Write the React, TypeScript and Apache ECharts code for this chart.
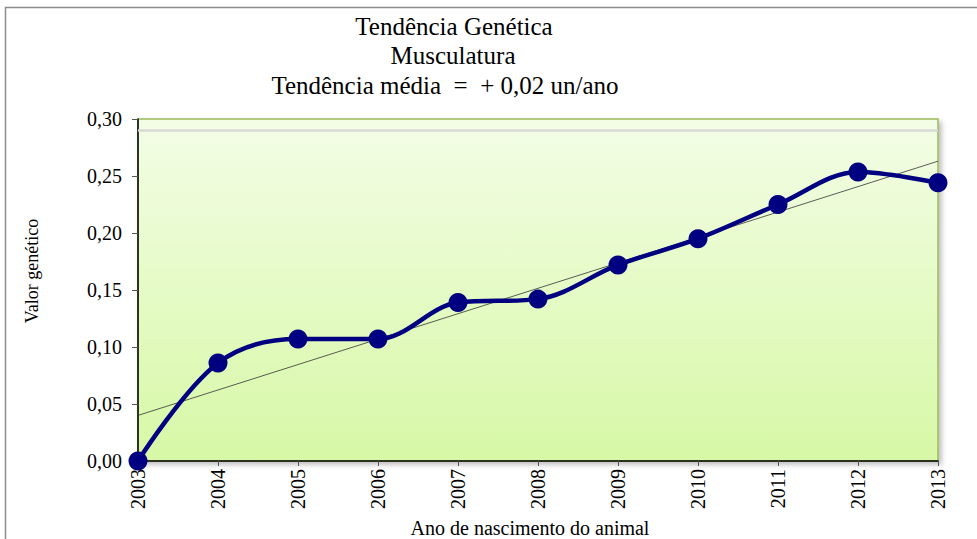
import React, { useEffect, useRef } from "react";
import * as echarts from "echarts";

const titleLines = ["Tendência Genética", "Musculatura", "Tendência média  =  + 0,02 un/ano"];
const years = ["2003", "2004", "2005", "2006", "2007", "2008", "2009", "2010", "2011", "2012", "2013"];
const geneticValues = [0.0, 0.086, 0.107, 0.107, 0.139, 0.142, 0.172, 0.195, 0.225, 0.2535, 0.244];
const trendYears = ["2003", "2013"];
const trendValues = [0.040, 0.263];
const yAxisName = "Valor genético";
const xAxisName = "Ano de nascimento do animal";

const FONT = "Times New Roman, Liberation Serif, serif";

const titleCenters = [454, 453, 445];
const titleTops = [14, 43, 73];

export default function App() {
  const ref = useRef<HTMLDivElement>(null);
  useEffect(() => {
    if (!ref.current) return;
    const chart = echarts.init(ref.current, null, { renderer: "svg" });
    chart.setOption({
      animation: false,
      backgroundColor: "#ffffff",
      textStyle: { fontFamily: FONT },
      title: titleLines.map((t, i) => ({
        text: t,
        left: titleCenters[i],
        textAlign: "center",
        top: titleTops[i],
        padding: 0,
        textStyle: { fontFamily: FONT, fontSize: 25, fontWeight: "normal", color: "#000" },
      })),
      graphic: [
        {
          type: "rect",
          shape: { x: 5.5, y: 7.5, width: 1000, height: 600 },
          style: { fill: "none", stroke: "#8c8c8c", lineWidth: 1.5 },
          silent: true,
          z: -1,
        },
      ],
      grid: {
        left: 138,
        right: 39,
        top: 119,
        bottom: 78,
        outerBoundsMode: "none",
        containLabel: false,
        show: true,
        borderColor: "#9bbb59",
        borderWidth: 1.5,
        backgroundColor: new echarts.graphic.LinearGradient(0, 0, 0, 1, [
          { offset: 0, color: "#f3fde6" },
          { offset: 1, color: "#d7f8a6" },
        ]),
        shadowColor: "rgba(0,0,0,0.25)",
        shadowBlur: 5,
        shadowOffsetX: 3,
        shadowOffsetY: 3,
      },
      xAxis: {
        type: "category",
        data: years,
        boundaryGap: false,
        name: xAxisName,
        nameLocation: "middle",
        nameGap: 57,
        nameTextStyle: { fontFamily: FONT, fontSize: 20, color: "#000", padding: [0, 16, 0, 0] },
        axisLine: { show: true, lineStyle: { color: "#000", width: 1.5 } },
        axisTick: { show: true, length: 5, lineStyle: { color: "#555" } },
        axisLabel: { rotate: 90, margin: 8, fontFamily: FONT, fontSize: 20, color: "#000" },
        splitLine: { show: false },
      },
      yAxis: {
        type: "value",
        min: 0,
        max: 0.3,
        interval: 0.05,
        name: yAxisName,
        nameLocation: "middle",
        nameGap: 97,
        nameRotate: 90,
        nameTextStyle: { fontFamily: FONT, fontSize: 18, color: "#000", padding: [0, 0, 0, 38] },
        axisLine: { show: true, lineStyle: { color: "#000", width: 1.5 } },
        axisTick: { show: true, length: 6, lineStyle: { color: "#555" } },
        axisLabel: {
          margin: 16,
          fontFamily: FONT,
          fontSize: 20,
          color: "#000",
          formatter: (v: number) => v.toFixed(2).replace(".", ","),
        },
        splitLine: { show: false },
      },
      series: [
        {
          type: "line",
          data: trendYears.map((y, i) => [y, trendValues[i]]),
          symbol: "none",
          lineStyle: { color: "#333", width: 0.8 },
          z: 2,
          markLine: {
            silent: true,
            symbol: "none",
            label: { show: false },
            lineStyle: { color: "#d9d9d9", width: 2.5, type: "solid" },
            data: [{ yAxis: 0.2915 }],
          },
        },
        {
          type: "line",
          data: geneticValues,
          smooth: 0.35,
          symbol: "circle",
          symbolSize: 19,
          itemStyle: { color: "#000080" },
          lineStyle: { color: "#000080", width: 4.5 },
          z: 3,
        },
      ],
    });
    return () => chart.dispose();
  }, []);
  return <div ref={ref} style={{ position: "absolute", left: 0, top: 0, width: 977, height: 539 }} />;
}
